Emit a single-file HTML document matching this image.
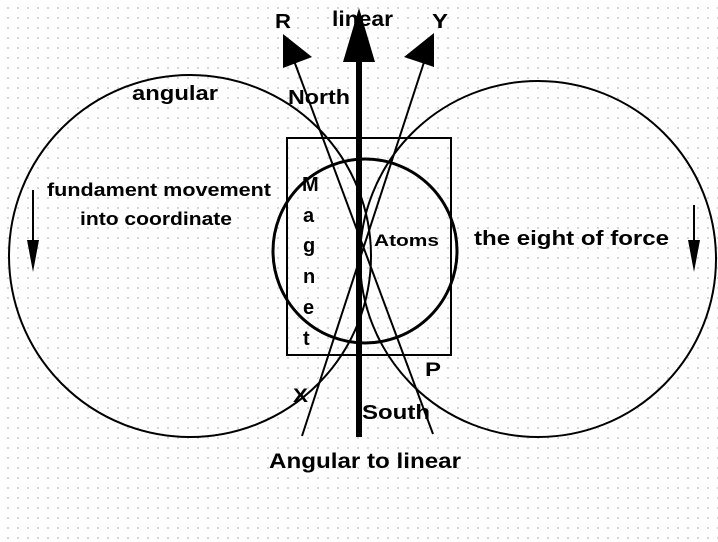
<!DOCTYPE html>
<html><head><meta charset="utf-8"><style>
html,body{margin:0;padding:0;}
body{width:718px;height:542px;overflow:hidden;background-color:#fff;
background-image:radial-gradient(circle,#c8c8c8 0.8px,transparent 1px);background-size:10px 10px;background-position:3px 3px;}
svg{position:absolute;left:0;top:0;}
text{font-family:"Liberation Sans",Arial,sans-serif;font-weight:bold;fill:#000;}
</style></head><body>
<svg width="718" height="542" viewBox="0 0 718 542">
<g fill="none" stroke="#000">
<circle cx="190" cy="256" r="181" stroke-width="2"/>
<circle cx="538" cy="259" r="178" stroke-width="2"/>
<circle cx="365" cy="251" r="92" stroke-width="3"/>
<rect x="287" y="138" width="164" height="217" stroke-width="2"/>
<line x1="359" y1="40" x2="359" y2="437" stroke-width="6"/>
<line x1="290" y1="50" x2="433" y2="434" stroke-width="2"/>
<line x1="428" y1="50" x2="302" y2="436" stroke-width="2"/>
<line x1="33" y1="190" x2="33" y2="250" stroke-width="2"/>
<line x1="694" y1="205" x2="694" y2="250" stroke-width="2"/>
</g>
<g fill="#000">
<polygon points="359,8 343,62 375,62"/>
<polygon points="283,34 283,68 312,57"/>
<polygon points="434,33 404,57 434,67"/>
<polygon points="27,240 39,240 33,272"/>
<polygon points="688,240 700,240 694,272"/>
</g>
<g lengthAdjust="spacingAndGlyphs">
<text x="332" y="26" font-size="21" textLength="61" lengthAdjust="spacingAndGlyphs">linear</text>
<text x="275" y="28" font-size="20" textLength="16" lengthAdjust="spacingAndGlyphs">R</text>
<text x="432" y="28" font-size="20" textLength="16" lengthAdjust="spacingAndGlyphs">Y</text>
<text x="288" y="104" font-size="20" textLength="62" lengthAdjust="spacingAndGlyphs">North</text>
<text x="132" y="100" font-size="20" textLength="86" lengthAdjust="spacingAndGlyphs">angular</text>
<text x="47" y="196" font-size="18" textLength="224" lengthAdjust="spacingAndGlyphs">fundament movement</text>
<text x="80" y="225" font-size="18" textLength="152" lengthAdjust="spacingAndGlyphs">into coordinate</text>
<g font-size="20">
<text x="302" y="191">M</text>
<text x="303" y="222">a</text>
<text x="303" y="252">g</text>
<text x="303" y="283">n</text>
<text x="303" y="314">e</text>
<text x="303" y="345">t</text>
</g>
<text x="374" y="246" font-size="17" textLength="65" lengthAdjust="spacingAndGlyphs">Atoms</text>
<text x="474" y="245" font-size="20" textLength="195" lengthAdjust="spacingAndGlyphs">the eight of force</text>
<text x="425" y="376" font-size="19" textLength="16" lengthAdjust="spacingAndGlyphs">P</text>
<text x="293" y="402" font-size="19" textLength="15" lengthAdjust="spacingAndGlyphs">X</text>
<text x="362" y="419" font-size="20" textLength="68" lengthAdjust="spacingAndGlyphs">South</text>
<text x="269" y="468" font-size="21" textLength="192" lengthAdjust="spacingAndGlyphs">Angular to linear</text>
</g>
</svg>
</body></html>
